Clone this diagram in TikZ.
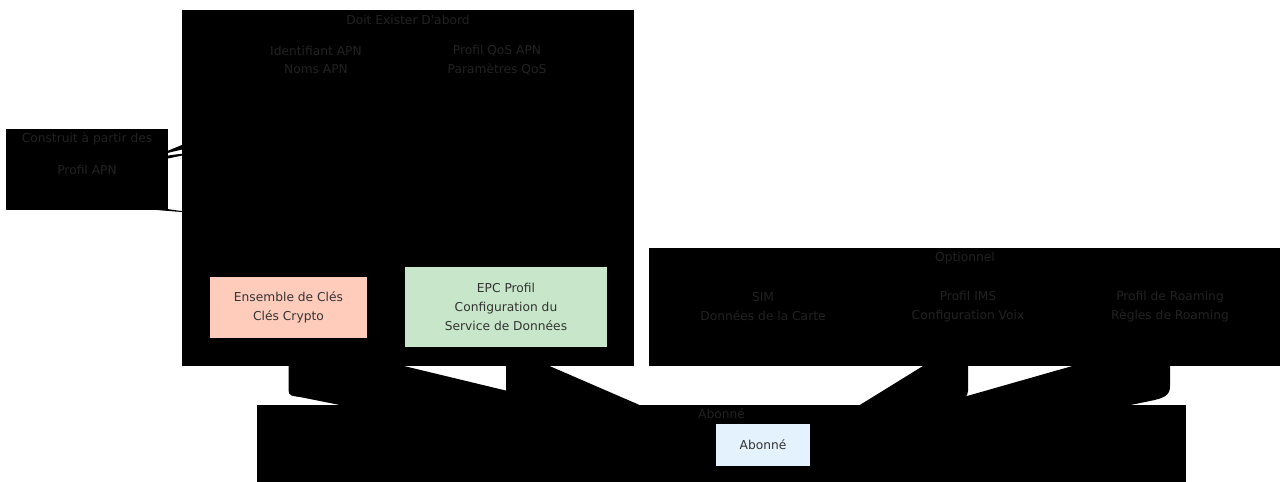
\documentclass[tikz,border=0pt]{standalone}
\usepackage{fontspec}
\setmainfont{DejaVu Sans}
\usepackage{tikz}
\pgfdeclarelayer{fond}
\pgfdeclarelayer{liens}
\pgfsetlayers{fond,liens,main}
\definecolor{gristexte}{HTML}{333333}
\definecolor{grissombre}{HTML}{222222}
\definecolor{saumon}{HTML}{FFCCBC}
\definecolor{vertclair}{HTML}{C8E6C9}
\definecolor{bleuclair}{HTML}{E3F2FD}

\begin{document}
\begin{tikzpicture}[x=1pt, y=-1pt,
	every node/.style={font=\fontsize{12.25}{18.7}\selectfont, text=gristexte, inner sep=0pt, align=center},
	grappe/.style={fill=black},
	titre/.style={anchor=base, text=grissombre},
	cache/.style={minimum width=130pt, minimum height=60pt, text=grissombre},
	boite/.style={rectangle},
	lien/.style={fill=black}]
	\useasboundingbox (0,0) rectangle (1280,482);
	\begin{pgfonlayer}{fond}
		\fill[grappe] (182,10) rectangle (633.5,366);
		\fill[grappe] (6,129) rectangle (167.5,210);
		\fill[grappe] (649,248) rectangle (1280,366);
		\fill[grappe] (257,405) rectangle (1186,482);
	\end{pgfonlayer}
	\node[titre] (tdoit) at (408,24) {Doit Exister D\textquotesingle abord};
	\node[titre] (tconstruit) at (87,142.5) {Construit à partir des};
	\node[titre] (topt) at (965,261.5) {Optionnel};
	\node[titre] (tabo) at (721.5,418.5) {Abonné};
	\node[cache, minimum width=94pt, minimum height=56pt] (apn) at (87,169.5) {Profil APN};
	\node[cache] (ident) at (316,60) {Identifiant APN\\Noms APN};
	\node[cache] (qos) at (497,60) {Profil QoS APN\\Paramètres QoS};
	\node[cache, minimum height=63pt] (sim) at (763,306.5) {SIM\\Données de la Carte};
	\node[cache, minimum height=63pt] (ims) at (968,306.5) {Profil IMS\\Configuration Voix};
	\node[cache, minimum height=63pt] (roam) at (1170,306.5) {Profil de Roaming\\Règles de Roaming};
	\node[boite, fill=saumon, minimum width=157pt, minimum height=61pt] (ens) at (288.5,307.5) {Ensemble de Clés\\Clés Crypto};
	\node[boite, fill=vertclair, minimum width=202pt, minimum height=80pt] (epc) at (506,307) {EPC Profil\\Configuration du\\Service de Données};
	\node[boite, fill=bleuclair, minimum width=94pt, minimum height=42pt] (abo) at (763,445) {Abonné};
	\coordinate (arrg) at ([xshift=-31pt]abo.center);
	\coordinate (arrd) at ([xshift=32pt]abo.center);
	\begin{pgfonlayer}{liens}
		\fill[lien] ([yshift=5pt]apn.east) .. controls (150,158) and (165,153) .. (185,149) .. controls (260,134) and (316,110) .. (ident.south);
		\fill[lien] ([yshift=4pt]apn.east) .. controls (148,160) and (160,156) .. (180,154) .. controls (280,144) and (497,120) .. (qos.south);
		\fill[lien] (apn.south) .. controls (110,206) and (150,210) .. (190,212.5) .. controls (300,228) and (450,250) .. ([yshift=10pt]epc.north);
		\fill[lien] (ens.south) -- (ens.south |- 0,390) .. controls +(0,6) and (292,396) .. (300,397) -- (340,405) -- (arrg);
		\fill[lien] (epc.south) -- (epc.south |- 0,392) .. controls +(0,8) and (514,404) .. (530,407) -- (arrg);
		\fill[lien] (ims.south) -- (ims.south |- 0,391) .. controls +(0,5) and (964,399) .. (955,406) -- (arrd);
		\fill[lien] (roam.south) -- (roam.south |- 0,386) .. controls +(0,9) and (1165,398) .. (1150,401) -- (1128,405.5) -- (arrd);
	\end{pgfonlayer}
\end{tikzpicture}
\end{document}
